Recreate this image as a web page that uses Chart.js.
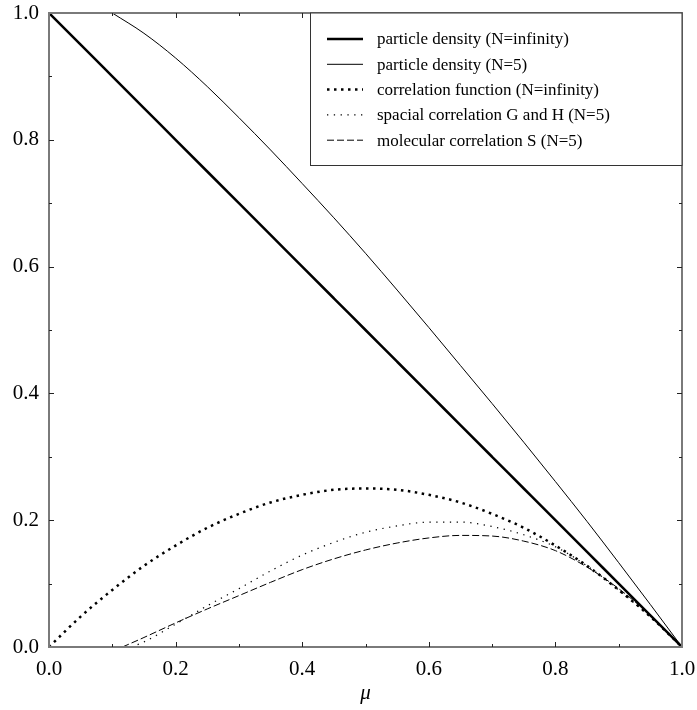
<!DOCTYPE html>
<html>
<head>
<meta charset="utf-8">
<script src="https://cdn.jsdelivr.net/npm/chart.js@4.4.0/dist/chart.umd.min.js"></script>
<style>
  html, body { margin: 0; padding: 0; background: #fff; }
  canvas { display: block; }
</style>
</head>
<body>
<canvas id="grafico" width="697" height="710"></canvas>
<script>
// valores
const mu = [0.00, 0.05, 0.10, 0.15, 0.20, 0.25, 0.30, 0.35, 0.40, 0.45, 0.50,
            0.55, 0.60, 0.65, 0.70, 0.75, 0.80, 0.85, 0.90, 0.95, 1.00];
const densidadeInf = [1.00, 0.95, 0.90, 0.85, 0.80, 0.75, 0.70, 0.65, 0.60, 0.55, 0.50,
                      0.45, 0.40, 0.35, 0.30, 0.25, 0.20, 0.15, 0.10, 0.05, 0.00];
const correlacaoInf = [0.000, 0.048, 0.090, 0.128, 0.160, 0.188, 0.210, 0.228, 0.240, 0.248, 0.250,
                       0.248, 0.240, 0.228, 0.210, 0.188, 0.160, 0.128, 0.090, 0.048, 0.000];

const muN5 = [0.10, 0.15, 0.20, 0.25, 0.30, 0.35, 0.40, 0.45, 0.50, 0.55,
              0.60, 0.65, 0.70, 0.75, 0.80, 0.85, 0.90, 0.95, 1.00];
const densidadeN5 = [1.000, 0.968, 0.929, 0.884, 0.835, 0.784, 0.731, 0.677, 0.621, 0.563,
                     0.504, 0.444, 0.384, 0.323, 0.261, 0.198, 0.133, 0.067, 0.000];

const muEspacial = [0.13, 0.15, 0.20, 0.25, 0.30, 0.35, 0.40, 0.45, 0.50, 0.55,
                    0.60, 0.65, 0.70, 0.75, 0.80, 0.85, 0.90, 0.95, 1.00];
const correlacaoGH = [0.000, 0.008, 0.036, 0.065, 0.092, 0.120, 0.145, 0.165, 0.181, 0.191,
                      0.197, 0.197, 0.190, 0.177, 0.158, 0.128, 0.090, 0.047, 0.000];

const muMolecular = [0.116, 0.15, 0.20, 0.25, 0.30, 0.35, 0.40, 0.45, 0.50, 0.55,
                     0.60, 0.65, 0.70, 0.75, 0.80, 0.85, 0.90, 0.95, 1.00];
const correlacaoS = [0.000, 0.015, 0.038, 0.060, 0.081, 0.102, 0.122, 0.139, 0.153, 0.164,
                     0.172, 0.176, 0.175, 0.167, 0.152, 0.126, 0.092, 0.050, 0.000];

const xTicks = [0, 0.2, 0.4, 0.6, 0.8, 1.0];
const yTicks = [0, 0.2, 0.4, 0.6, 0.8, 1.0];

const pontos = (xs, ys) => xs.map((x, i) => ({ x: x, y: ys[i] }));

// moldura com marcas para dentro + legenda em caixa
const molduraPlugin = {
    id: 'moldura',
    afterDatasetsDraw(chart) {
        const { ctx, chartArea: a, scales } = chart;
        ctx.save();
        ctx.strokeStyle = '#7a7a7a';
        ctx.lineWidth = 2;
        ctx.strokeRect(a.left, a.top, a.right - a.left, a.bottom - a.top);
        ctx.strokeStyle = '#222';
        ctx.lineWidth = 1;
        for (let i = 1; i < 10; i++) {
            const len = i % 2 === 0 ? 5 : 3;
            const px = Math.round(scales.x.getPixelForValue(i / 10)) + 0.5;
            const py = Math.round(scales.y.getPixelForValue(i / 10)) + 0.5;
            ctx.beginPath();
            ctx.moveTo(px, a.bottom); ctx.lineTo(px, a.bottom - len);
            ctx.moveTo(px, a.top); ctx.lineTo(px, a.top + len);
            ctx.moveTo(a.left, py); ctx.lineTo(a.left + len, py);
            ctx.moveTo(a.right, py); ctx.lineTo(a.right - len, py);
            ctx.stroke();
        }
        ctx.restore();
    },
    afterDraw(chart) {
        const { ctx, chartArea: a } = chart;
        const x0 = 310, y0 = a.top, y1 = 165;
        ctx.save();
        ctx.fillStyle = '#fff';
        ctx.fillRect(x0, y0, a.right - x0, y1 - y0);
        ctx.strokeStyle = '#333';
        ctx.lineWidth = 1;
        ctx.strokeRect(x0 + 0.5, y0, a.right - x0 - 0.5, y1 - y0 + 0.5);
        ctx.font = '17px "Liberation Serif", "Times New Roman", serif';
        ctx.textBaseline = 'middle';
        ctx.fillStyle = '#000';
        chart.data.datasets.forEach((ds, i) => {
            const y = 39 + i * 25.3;
            ctx.beginPath();
            ctx.lineWidth = ds.borderWidth;
            ctx.setLineDash(ds.borderDash || []);
            ctx.strokeStyle = ds.borderColor;
            ctx.moveTo(327, y);
            ctx.lineTo(363, y);
            ctx.stroke();
            ctx.setLineDash([]);
            ctx.fillText(ds.label, 377, y + 1);
        });
        ctx.restore();
    }
};

const ctx = document.getElementById('grafico').getContext('2d');
const grafico = new Chart(ctx, {
    type: 'line',
    data: {
        datasets: [{
            label: 'particle density (N=infinity)',
            data: pontos(mu, densidadeInf),
            borderColor: '#000',
            borderWidth: 2.5
        },
        {
            label: 'particle density (N=5)',
            data: pontos(muN5, densidadeN5),
            borderColor: '#000',
            borderWidth: 1
        },
        {
            label: 'correlation function (N=infinity)',
            data: pontos(mu, correlacaoInf),
            borderColor: '#000',
            borderWidth: 2.5,
            borderDash: [2.5, 4.5]
        },
        {
            label: 'spacial correlation G and H (N=5)',
            data: pontos(muEspacial, correlacaoGH),
            borderColor: '#000',
            borderWidth: 1.2,
            borderDash: [1.3, 5.5]
        },
        {
            label: 'molecular correlation S (N=5)',
            data: pontos(muMolecular, correlacaoS),
            borderColor: '#000',
            borderWidth: 1,
            borderDash: [7, 3]
        }]
    },
    options: {
        responsive: false,
        animation: false,
        devicePixelRatio: 1,
        layout: { padding: { top: 13, right: 15, left: 0, bottom: 0 } },
        elements: {
            point: { radius: 0 },
            line: { cubicInterpolationMode: 'monotone', fill: false }
        },
        plugins: {
            legend: { display: false },
            tooltip: { enabled: false }
        },
        scales: {
            x: {
                type: 'linear',
                min: 0,
                max: 1,
                afterFit: s => { s.height = 63; s.paddingLeft = 0; s.paddingRight = 0; },
                afterBuildTicks: s => { s.ticks = xTicks.map(v => ({ value: v })); },
                grid: { display: false, drawTicks: false },
                border: { display: false },
                ticks: {
                    padding: 10,
                    color: '#000',
                    font: { family: '"Liberation Serif", serif', size: 21 },
                    callback: v => v.toFixed(1)
                },
                title: {
                    display: true,
                    text: 'μ',
                    color: '#000',
                    font: { family: '"Liberation Serif", serif', size: 21, style: 'italic' },
                    padding: { top: 0, bottom: 4 }
                }
            },
            y: {
                type: 'linear',
                min: 0,
                max: 1,
                afterFit: s => { s.width = 49; s.paddingTop = 0; s.paddingBottom = 0; },
                afterBuildTicks: s => { s.ticks = yTicks.map(v => ({ value: v })); },
                grid: { display: false, drawTicks: false },
                border: { display: false },
                ticks: {
                    padding: 10,
                    color: '#000',
                    font: { family: '"Liberation Serif", serif', size: 21 },
                    callback: v => v.toFixed(1)
                }
            }
        }
    },
    plugins: [molduraPlugin]
});
</script>
</body>
</html>
